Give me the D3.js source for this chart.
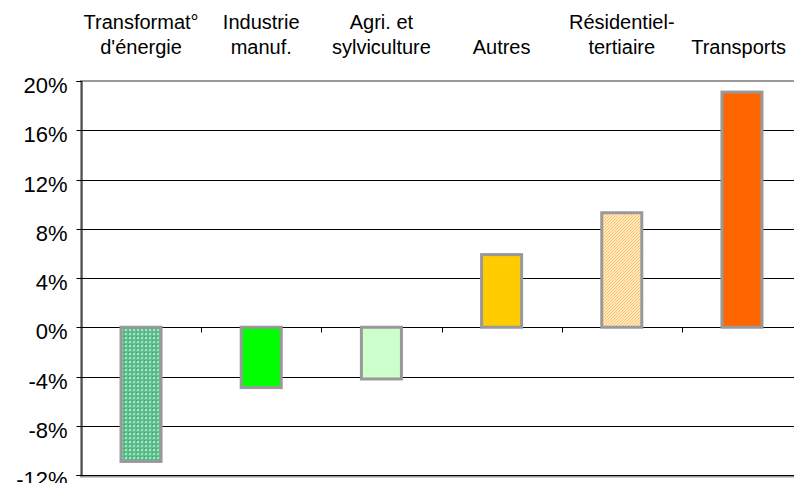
<!DOCTYPE html>
<html>
<head>
<meta charset="utf-8">
<script src="https://cdn.jsdelivr.net/npm/d3@7"></script>
<style>
html,body{margin:0;padding:0;background:#fff;}
svg{display:block;}
text{font-family:"Liberation Sans",Arial,sans-serif;fill:#000;}
</style>
</head>
<body>
<svg id="chart" width="794" height="483"></svg>
<script>
const categories = ["Transformat°\nd'énergie", "Industrie\nmanuf.", "Agri. et\nsylviculture", "Autres", "Résidentiel-\ntertiaire", "Transports"];
const values = [-10.9, -4.9, -4.2, 5.9, 9.3, 19.1];
const fills = ["url(#patGreen)", "#00ff00", "#ccffcc", "#ffcc00", "url(#patOrange)", "#ff6600"];
const yTicks = [-12, -8, -4, 0, 4, 8, 12, 16, 20];

const W = 794, H = 483;
const plot = {left: 81, right: 802, top: 81, bottom: 475};

const svg = d3.select("#chart");
const defs = svg.append("defs");

// green checked pattern
const pg = defs.append("pattern").attr("id", "patGreen").attr("patternUnits", "userSpaceOnUse")
  .attr("width", 4).attr("height", 4);
pg.append("rect").attr("width", 4).attr("height", 4).attr("fill", "#5cbf8c");
pg.append("rect").attr("x", 1).attr("y", 1).attr("width", 2).attr("height", 2).attr("fill", "#a6e2c2");
pg.append("rect").attr("x", 0).attr("y", 0).attr("width", 1).attr("height", 1).attr("fill", "#3a9f6e");

// orange hatched pattern
const po = defs.append("pattern").attr("id", "patOrange").attr("patternUnits", "userSpaceOnUse")
  .attr("width", 3).attr("height", 3);
po.append("rect").attr("width", 3).attr("height", 3).attr("fill", "#ffe9c4");
po.append("path").attr("d", "M0,3 L3,0 M-1,1 L1,-1 M2,4 L4,2").attr("stroke", "#ffc460").attr("stroke-width", 1);

const x = d3.scaleBand().domain(categories).range([plot.left, plot.right])
  .paddingInner(0.667).paddingOuter(0.333);
const y = d3.scaleLinear().domain([-12, 20]).range([plot.bottom, plot.top]);

// plot area border (gray)
svg.append("rect").attr("x", plot.left).attr("y", y(20)).attr("width", plot.right - plot.left)
  .attr("height", y(-12) - y(20) + 1.5).attr("fill", "none").attr("stroke", "#999").attr("stroke-width", 2);

// gridlines
svg.append("g").selectAll("line").data(yTicks.filter(t => t < 20)).join("line")
  .attr("x1", plot.left).attr("x2", plot.right)
  .attr("y1", d => Math.round(y(d)) + 0.5).attr("y2", d => Math.round(y(d)) + 0.5)
  .attr("stroke", "#000").attr("stroke-width", 1);

// y axis
const yAxis = d3.axisLeft(y).tickValues(yTicks).tickSize(5).tickPadding(9).tickFormat(d => d + "%");
const gy = svg.append("g").attr("transform", `translate(${plot.left + 0.5},0)`).call(yAxis);
gy.select(".domain").attr("stroke", "#000");
gy.selectAll(".tick line").attr("stroke", "#000");
gy.selectAll(".tick text").attr("font-size", 22).attr("font-family", "Liberation Sans, Arial, sans-serif")
  .attr("dy", "0.5em").attr("fill", "#000");
gy.selectAll(".tick").attr("transform", d => `translate(0,${Math.round(y(d)) + 0.5})`);

// category ticks along 0 line
const y0 = Math.round(y(0)) + 0.5;
const step = x.step();
const bounds = d3.range(1, categories.length + 1).map(i => plot.left + i * step);
svg.append("g").selectAll("line").data(bounds).join("line")
  .attr("x1", d => Math.round(d) + 0.5).attr("x2", d => Math.round(d) + 0.5)
  .attr("y1", y0).attr("y2", y0 + 5).attr("stroke", "#000");

// bars
svg.append("g").selectAll("rect").data(values).join("rect")
  .attr("x", (d, i) => x(categories[i]))
  .attr("width", x.bandwidth())
  .attr("y", d => y(Math.max(0, d)))
  .attr("height", d => Math.abs(y(d) - y(0)))
  .attr("fill", (d, i) => fills[i])
  .attr("stroke", "#999").attr("stroke-width", 3);

// category labels at top
const lab = svg.append("g");
categories.forEach((c, i) => {
  const lines = c.split("\n");
  const t = lab.append("text").attr("text-anchor", "middle").attr("font-size", 20);
  const startY = lines.length === 2 ? 29 : 54;
  lines.forEach((ln, j) => {
    t.append("tspan").attr("x", 0).attr("y", startY + j * 25).text(ln);
  });
  const w = t.node().getBBox().width;
  let cx = x(categories[i]) + x.bandwidth() / 2;
  cx = Math.min(cx, W - 8 - w / 2);
  t.selectAll("tspan").attr("x", cx);
});
</script>
</body>
</html>
